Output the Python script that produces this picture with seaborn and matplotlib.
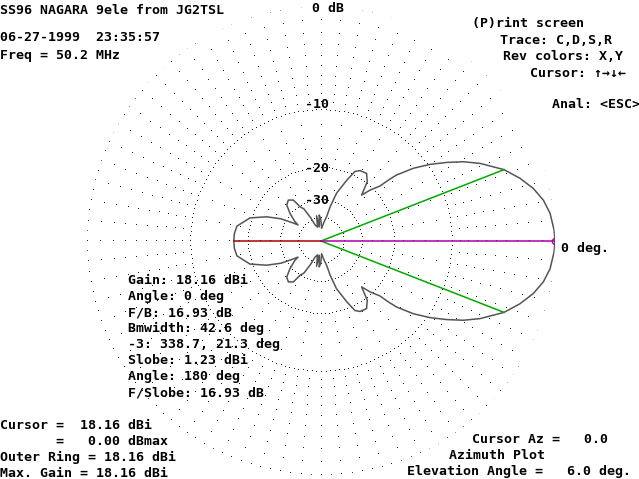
import numpy as np
import matplotlib
matplotlib.use("Agg")
import matplotlib.pyplot as plt
import seaborn as sns

# Azimuth pattern: upper half (deg, dB below max), pattern is symmetric
az_deg = [0, 2.7, 6.9, 10.4, 13.9, 17.5, 21.3, 26.0, 29.1, 32.0, 35.1, 38.2, 41.1, 42.0, 43.0,
          46, 48.5, 52, 56, 61, 64, 67, 72, 75, 77, 82, 87, 91, 94, 97, 100, 104, 110, 114, 118,
          121.5, 124, 128.6, 133.6, 138.2, 143.4, 145, 147.5, 151, 156, 162, 170, 175, 180]
gain_db = [0, -0.05, -0.24, -0.59, -1.16, -1.97, -3.0, -4.79, -6.21, -7.83, -9.66, -11.8, -14.5, -16.0, -18.3,
           -20.5, -23.0, -19.5, -18.1, -18.3, -19.0, -21.7, -26.4, -32.4, -38.4, -44, -50, -40, -37.7, -48, -38,
           -48, -45, -38, -32, -30.2, -26.7, -25.7, -26.6, -29.6, -33.9, -36.4, -33, -28, -23.5, -19.6, -17.3,
           -17.0, -16.93]

ring_db = [0, -10, -20, -30, -40]
ring_step_deg = [2.5, 2, 3, 5, 9]
# sparse dot lattice: (dB levels, spoke step in deg)
outer_dot_db = [-1, -2, -3, -4, -5, -6, -7, -8, -9]
mid_dot_db = [-12, -14, -16, -18]
inner_dot_db = [-23, -26]
dot_steps = [5, 10, 15]
fb_db = 16.93
bw_angles = [338.7, 21.3]
cursor_az = 0.0

title_lines = ["SS96 NAGARA 9ele from JG2TSL", "06-27-1999  23:35:57", "Freq = 50.2 MHz"]
menu_lines = ["(P)rint screen", "Trace: C,D,S,R", "Rev colors: X,Y",
              "Cursor: \u2191\u2192\u2193\u2190", "Anal: <ESC>"]
info_lines = ["Gain: 18.16 dBi", "Angle: 0 deg", "F/B: 16.93 dB", "Bmwidth: 42.6 deg",
              "-3: 338.7, 21.3 deg", "Slobe: 1.23 dBi", "Angle: 180 deg", "F/Slobe: 16.93 dB"]
cursor_lines = ["Cursor =  18.16 dBi", "       =   0.00 dBmax",
                "Outer Ring = 18.16 dBi", "Max. Gain = 18.16 dBi"]
plot_lines = ["Cursor Az =   0.0", "Azimuth Plot", "Elevation Angle =   6.0 deg."]
ring_labels = ["0 dB", "-10", "-20", "-30"]


def arrl(db):
    # ARRL log scale: 0.89 per 2 dB
    return 0.89 ** (-np.asarray(db, dtype=float) / 2.0)


full_az = az_deg + [360 - a for a in reversed(az_deg[:-1])]
full_db = gain_db + list(reversed(gain_db[:-1]))

W, H = 639, 479
fig = plt.figure(figsize=(W / 100, H / 100), dpi=100)
fig.patch.set_facecolor("white")

cx, cy, R = 321, 241, 234
ax = fig.add_axes([(cx - R) / W, (H - cy - R) / H, 2 * R / W, 2 * R / H], projection="polar")
ax.set_ylim(0, 1)
ax.grid(False)
ax.set_xticks([])
ax.set_yticks([])
ax.spines["polar"].set_visible(False)
ax.patch.set_alpha(0)

# dotted grid: dense rings every 10 dB, sparse dot lattice on spokes
grid_col = "#202020"
for db, step in zip(ring_db, ring_step_deg):
    th = np.deg2rad(np.arange(0, 360, step))
    ax.plot(th, np.full_like(th, arrl(db)), ls="none", marker=",", color=grid_col)
for levels, step in zip([outer_dot_db, mid_dot_db, inner_dot_db], dot_steps):
    TH, DB = np.meshgrid(np.deg2rad(np.arange(0, 360, step)), levels)
    ax.plot(TH.ravel(), arrl(DB.ravel()), ls="none", marker=",", color=grid_col)

# pattern trace
sns.lineplot(x=np.deg2rad(full_az), y=arrl(full_db), ax=ax, sort=False, estimator=None,
             color="#555555", linewidth=1.1)

# beamwidth, back and cursor lines
for a in bw_angles:
    ax.plot([np.deg2rad(a)] * 2, [0, arrl(-3)], color="#00aa00", lw=1.1)
ax.plot([np.pi, np.pi], [0, arrl(-fb_db)], color="#aa0000", lw=1.1)
ax.plot([np.deg2rad(cursor_az)] * 2, [0, arrl(0)], color="#aa00aa", lw=1.1)
ax.plot([np.deg2rad(cursor_az)], [arrl(0)], marker="o", ms=4.5, mfc="none", mec="#aa00aa", mew=1.0)
ax.set_xlabel("")
ax.set_ylabel("")

# text overlay in pixel coordinates
tx = fig.add_axes([0, 0, 1, 1])
tx.set_xlim(0, W)
tx.set_ylim(H, 0)
tx.axis("off")
tx.patch.set_alpha(0)

font = dict(family=["DejaVu Sans Mono"], fontweight="bold", fontsize=9.55, va="baseline", ha="left", color="black")

for s, y in zip(title_lines, [14, 41, 59]):
    tx.text(0, y, s, **font)
for s, x, y in zip(menu_lines, [472, 500, 503, 530, 552], [27, 44, 60, 77, 108]):
    tx.text(x, y, s, **font)
for s, x, y in zip(ring_labels, [312, 305, 305, 305], [12, 108, 172, 204]):
    tx.text(x, y, s, **font)
tx.text(561, 252, "0 deg.", **font)
for i, s in enumerate(info_lines):
    tx.text(128, 284 + 16 * i, s, **font)
for s, y in zip(cursor_lines, [429, 445, 461, 477]):
    tx.text(0, y, s, **font)
for s, x, y in zip(plot_lines, [472, 449, 407], [443, 459, 475]):
    tx.text(x, y, s, **font)

fig.savefig("out.png", dpi=100, facecolor="white")
